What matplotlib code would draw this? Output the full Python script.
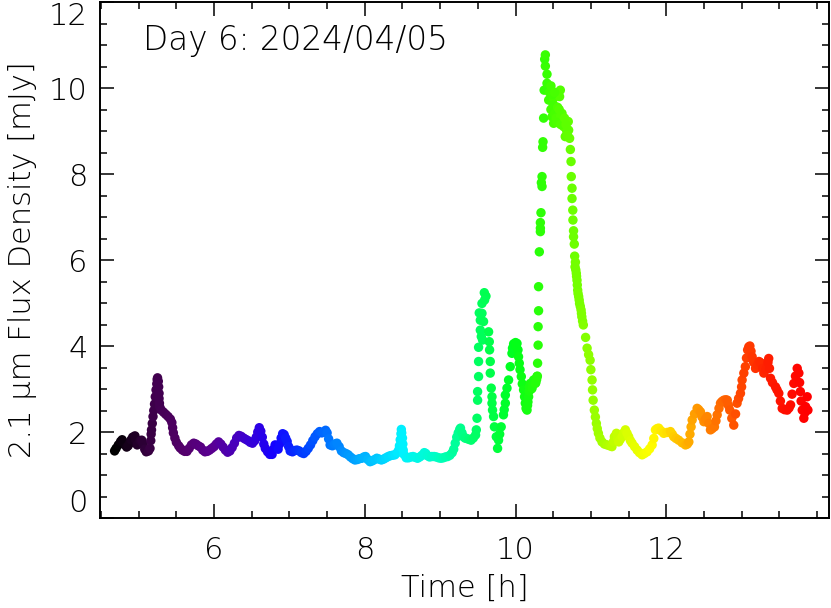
import numpy as np
from matplotlib import pyplot as plt
from matplotlib.colors import LinearSegmentedColormap

# light curve: time [h], flux density [mJy]
time_h = [
    4.68, 4.70, 4.73, 4.76, 4.78, 4.80, 4.82, 4.84, 4.86, 4.88, 4.90, 4.92, 4.95, 4.96, 4.98,
    5.00, 5.02, 5.04, 5.06, 5.08, 5.10, 5.13, 5.15,
    5.16, 5.165, 5.17, 5.18, 5.19, 5.20, 5.21, 5.22, 5.23, 5.24, 5.245, 5.25, 5.26, 5.265,
    5.27, 5.27, 5.275, 5.28, 5.30, 5.33, 5.36, 5.39, 5.42, 5.44, 5.45, 5.46, 5.48, 5.50,
    5.53, 5.55, 5.58, 5.61, 5.64, 5.67, 5.70, 5.73, 5.76, 5.79, 5.82, 5.85, 5.88, 5.91,
    5.94, 5.97, 6.00, 6.03, 6.06, 6.09, 6.12, 6.15, 6.18, 6.21, 6.24, 6.27, 6.30, 6.33,
    6.36, 6.39, 6.42, 6.45, 6.48, 6.51, 6.54, 6.56, 6.58, 6.60, 6.62, 6.64, 6.66, 6.68,
    6.71, 6.74, 6.77, 6.79, 6.81, 6.83, 6.85, 6.87, 6.89, 6.91, 6.93, 6.95, 6.97, 6.99,
    7.01, 7.04, 7.07, 7.10, 7.13, 7.16, 7.19, 7.22, 7.25, 7.28, 7.31, 7.34, 7.37, 7.40,
    7.43, 7.46, 7.48, 7.50, 7.52, 7.54, 7.57, 7.60, 7.63, 7.66, 7.69, 7.72, 7.75, 7.78,
    7.81, 7.84, 7.87, 7.90, 7.93, 7.96, 7.99, 8.01, 8.04, 8.07, 8.10, 8.13, 8.16, 8.19,
    8.22, 8.25, 8.28, 8.31, 8.34, 8.37, 8.40, 8.43, 8.45, 8.46, 8.47, 8.48, 8.485, 8.49,
    8.50, 8.505, 8.51, 8.52, 8.55, 8.58, 8.61, 8.64, 8.67, 8.70, 8.73, 8.76, 8.79, 8.81,
    8.83, 8.86, 8.89, 8.92, 8.95, 8.98, 9.01, 9.04, 9.07, 9.10, 9.13, 9.16, 9.18, 9.20,
    9.22, 9.24, 9.26, 9.27, 9.29, 9.31, 9.33, 9.35, 9.38, 9.41, 9.44, 9.47, 9.48,
    # first flare
    9.489, 9.497, 9.497, 9.51, 9.51, 9.51, 9.533, 9.533, 9.519, 9.555, 9.586, 9.608, 9.59,
    9.555, 9.576, 9.546, 9.563,
    9.643, 9.652, 9.656, 9.665, 9.665, 9.678, 9.688, 9.688, 9.695, 9.709, 9.72, 9.745, 9.762,
    9.775, 9.79, 9.81, 9.84, 9.85, 9.865, 9.865, 9.887, 9.908, 9.93, 9.953, 9.96, 9.975,
    9.988, 10.0, 10.01, 10.02, 10.033, 10.04, 10.05, 10.06, 10.077, 10.09, 10.107, 10.12,
    10.13, 10.14, 10.153, 10.16, 10.165, 10.174, 10.18, 10.185, 10.196, 10.20, 10.21, 10.22,
    10.23, 10.24, 10.25, 10.263, 10.27, 10.28, 10.285, 10.29,
    # main flare
    10.293, 10.30, 10.30, 10.306, 10.306, 10.316, 10.33, 10.33, 10.33, 10.338, 10.352, 10.343,
    10.352, 10.36, 10.365, 10.373, 10.38, 10.418, 10.418, 10.396, 10.387, 10.396,
    10.44, 10.506, 10.595, 10.585, 10.53, 10.485, 10.55, 10.617, 10.506, 10.572, 10.64, 10.70,
    10.705, 10.66, 10.718, 10.47, 10.50, 10.52, 10.54, 10.56, 10.58, 10.60, 10.62, 10.45,
    10.47, 10.49, 10.52, 10.55, 10.60, 10.65, 10.67, 10.68, 10.69,
    10.728, 10.737, 10.74, 10.75, 10.75, 10.76, 10.762, 10.77, 10.77, 10.78, 10.785, 10.79,
    10.795, 10.80, 10.807, 10.81, 10.816, 10.82, 10.825, 10.83, 10.838, 10.845, 10.85, 10.86,
    10.87, 10.875, 10.88, 10.89, 10.90, 10.93, 10.95, 10.97,
    # decay and late activity
    10.99, 11.0, 11.016, 11.022, 11.03, 11.046, 11.06, 11.073, 11.085, 11.10, 11.12, 11.148,
    11.18, 11.215, 11.25, 11.28, 11.30, 11.312, 11.339, 11.355, 11.37, 11.39, 11.414, 11.435,
    11.458, 11.48, 11.502, 11.525, 11.547, 11.58, 11.614, 11.645, 11.68, 11.71, 11.746, 11.78,
    11.813, 11.835, 11.857, 11.88, 11.90, 11.93, 11.967, 12.01, 12.056, 12.08, 12.10, 12.13,
    12.166, 12.21, 12.255, 12.28, 12.30, 12.315, 12.33, 12.344, 12.375, 12.41, 12.43, 12.454,
    12.475, 12.50, 12.52, 12.543, 12.565, 12.587, 12.61, 12.64, 12.66, 12.676, 12.70, 12.72,
    12.74, 12.764, 12.79, 12.81, 12.825, 12.843, 12.87, 12.896, 12.92, 12.94, 12.96, 12.985,
    13.0, 13.007, 13.03, 13.05, 13.065, 13.08, 13.095, 13.11, 13.125, 13.14, 13.16, 13.185,
    13.21, 13.23, 13.245, 13.26, 13.28, 13.295, 13.32, 13.34, 13.35, 13.36, 13.37, 13.384,
    13.41, 13.45, 13.47, 13.494, 13.515, 13.539, 13.57, 13.605, 13.63, 13.65, 13.67, 13.693,
    13.715, 13.738, 13.76, 13.77, 13.78, 13.79, 13.805, 13.826, 13.84, 13.85, 13.87, 13.88,
]

flux_mjy = [
    1.56, 1.62, 1.70, 1.78, 1.82, 1.76, 1.70, 1.65, 1.68, 1.74, 1.82, 1.88, 1.91, 1.82, 1.70,
    1.74, 1.80, 1.81, 1.72, 1.60, 1.54, 1.56, 1.62,
    1.80, 1.95, 2.05, 2.20, 2.36, 2.50, 2.65, 2.82, 2.98, 3.12, 3.22, 3.26, 3.18, 3.05,
    2.90, 2.78, 2.67, 2.58, 2.51, 2.46, 2.41, 2.36, 2.30, 2.22, 2.10, 1.98, 1.86, 1.76,
    1.68, 1.63, 1.58, 1.55, 1.55, 1.62, 1.70, 1.74, 1.72, 1.68, 1.65, 1.58, 1.54, 1.55,
    1.58, 1.62, 1.66, 1.72, 1.77, 1.72, 1.65, 1.58, 1.53, 1.56, 1.64, 1.74, 1.86, 1.92,
    1.90, 1.86, 1.83, 1.80, 1.76, 1.74, 1.80, 1.88, 2.00, 2.10, 2.02, 1.88, 1.72, 1.62,
    1.54, 1.48, 1.48, 1.60, 1.70, 1.64, 1.60, 1.72, 1.86, 1.96, 1.94, 1.86, 1.78, 1.66,
    1.56, 1.54, 1.57, 1.58, 1.56, 1.52, 1.50, 1.55, 1.62, 1.70, 1.80, 1.89, 1.96, 2.01,
    1.98, 2.00, 2.04, 1.98, 1.84, 1.70, 1.68, 1.72, 1.74, 1.66, 1.56, 1.52, 1.50, 1.47,
    1.42, 1.38, 1.35, 1.36, 1.38, 1.39, 1.42, 1.43, 1.36, 1.31, 1.33, 1.36, 1.39, 1.37,
    1.35, 1.37, 1.40, 1.43, 1.45, 1.46, 1.47, 1.52, 1.58, 1.68, 1.82, 1.96, 2.06, 1.98,
    1.86, 1.72, 1.58, 1.48, 1.40, 1.40, 1.42, 1.43, 1.41, 1.39, 1.42, 1.46, 1.52, 1.50,
    1.45, 1.42, 1.43, 1.43, 1.42, 1.40, 1.39, 1.40, 1.42, 1.43, 1.46, 1.52, 1.60, 1.74,
    1.88, 1.98, 2.06, 2.09, 1.98, 1.89, 1.86, 1.85, 1.83, 1.81, 1.86, 1.93, 2.05,
    # first flare
    2.32, 2.74, 2.94, 3.29, 3.64, 3.97, 4.37, 4.60, 4.77, 4.99, 5.24, 5.16, 5.07,
    4.76, 4.57, 4.22, 4.14,
    4.33, 4.10, 3.91, 3.64, 3.37, 3.02, 2.82, 2.67, 2.51, 2.36, 2.12, 1.89, 1.62,
    1.81, 1.95, 2.12, 2.40, 2.52, 2.67, 2.86, 3.02, 3.21, 3.52, 3.83, 3.95, 4.05,
    4.02, 4.08, 4.00, 4.06, 3.91, 3.75, 3.60, 3.45, 3.29, 3.12, 2.98, 2.82,
    2.67, 2.55, 2.51, 2.62, 2.70, 2.82, 2.95, 3.05, 3.13, 3.08, 3.00, 3.02,
    3.12, 3.21, 3.18, 3.13, 3.15, 3.22, 3.29, 3.30,
    # main flare
    3.60, 4.02, 4.45, 4.82, 5.38, 6.19, 6.66, 6.74, 6.87, 7.10, 7.71, 7.80,
    7.94, 8.62, 8.75, 9.30, 9.95, 10.11, 10.32, 10.51, 10.67, 10.77,
    9.72, 9.76, 9.95, 9.80, 9.57, 9.33, 9.45, 9.41, 9.18, 9.26, 9.10, 9.22,
    9.02, 8.87, 8.83, 9.50, 9.60, 9.40, 9.30, 9.55, 9.50, 9.35, 9.20, 9.90,
    10.05, 9.85, 9.90, 9.20, 9.15, 9.30, 9.15, 9.00, 8.90,
    8.57, 8.29, 7.94, 7.67, 7.43, 7.16, 6.93, 6.68, 6.54, 6.37, 6.09, 5.84,
    5.95, 5.77, 5.69, 5.62, 5.53, 5.42, 5.30, 5.22, 5.15, 5.07, 4.99, 4.92,
    4.84, 4.76, 4.68, 4.58, 4.49, 4.20, 3.95, 3.80,
    # decay and late activity
    3.67, 3.45, 3.21, 2.98, 2.74, 2.51, 2.35, 2.20, 2.08, 1.97, 1.86, 1.77,
    1.72, 1.70, 1.68, 1.66, 1.78, 1.89, 1.97, 1.85, 1.77, 1.83, 1.89, 1.98,
    2.05, 1.97, 1.89, 1.80, 1.74, 1.66, 1.58, 1.52, 1.47, 1.50, 1.54, 1.61,
    1.70, 1.85, 2.05, 2.08, 2.09, 2.03, 1.97, 1.99, 2.01, 1.95, 1.89, 1.85,
    1.81, 1.75, 1.70, 1.72, 1.77, 1.95, 2.12, 2.28, 2.42, 2.55, 2.52, 2.47,
    2.35, 2.24, 2.30, 2.36, 2.20, 2.05, 2.08, 2.12, 2.26, 2.40, 2.55, 2.67,
    2.71, 2.74, 2.75, 2.74, 2.62, 2.51, 2.32, 2.16, 2.42, 2.67, 2.78, 2.90,
    3.05, 3.21, 3.37, 3.52, 3.72, 3.91, 3.98, 4.00, 3.88, 3.75, 3.62, 3.48,
    3.56, 3.64, 3.62, 3.60, 3.48, 3.37, 3.45, 3.52, 3.62, 3.71, 3.48, 3.25,
    3.15, 3.05, 2.98, 2.90, 2.72, 2.55, 2.52, 2.51, 2.56, 2.63, 2.88, 3.13,
    3.30, 3.48, 3.37, 3.15, 2.94, 2.72, 2.51, 2.32, 2.45, 2.59, 2.82, 2.51,
]

title_text = "Day 6: 2024/04/05"
x_label = "Time [h]"
y_label = "2.1 μm Flux Density [mJy]"
x_ticks = [6, 8, 10, 12]
y_ticks = [0, 2, 4, 6, 8, 10, 12]

# rainbow colour table, black -> purple -> blue -> cyan -> green -> yellow -> red
rainbow = LinearSegmentedColormap.from_list("idl_rainbow", [
    (0.0, (0, 0, 0)),
    (0.057, (0.25, 0, 0.30)),
    (0.10, (0.33, 0, 0.42)),
    (0.143, (0.35, 0, 0.58)),
    (0.187, (0.25, 0, 0.80)),
    (0.23, (0.08, 0, 1)),
    (0.274, (0, 0.25, 1)),
    (0.317, (0, 0.5, 1)),
    (0.36, (0, 0.7, 1)),
    (0.415, (0, 0.95, 1)),
    (0.47, (0, 1, 0.75)),
    (0.52, (0, 1, 0.4)),
    (0.578, (0, 1, 0.1)),
    (0.63, (0.25, 1, 0)),
    (0.685, (0.55, 1, 0)),
    (0.74, (0.85, 1, 0)),
    (0.774, (1, 1, 0)),
    (0.817, (1, 0.75, 0)),
    (0.86, (1, 0.5, 0)),
    (0.904, (1, 0.28, 0)),
    (0.948, (1, 0.1, 0)),
    (1.0, (1, 0, 0)),
])

plt.rcParams['font.family'] = ['DejaVu Sans']
plt.rcParams['font.weight'] = 'light'
plt.rcParams['axes.labelweight'] = 'light'

fig = plt.figure(figsize=(8.31, 6.08), dpi=100)
ax = fig.add_axes([0.1203, 0.148, 0.8773, 0.8487])

t = np.array(time_h)
f = np.array(flux_mjy)
ax.scatter(t, f, c=t, cmap=rainbow, vmin=t.min(), vmax=t.max(), s=46, linewidths=0)

ax.set_xlim(4.486, 14.16)
ax.set_ylim(0, 12)
ax.set_xticks(x_ticks)
ax.set_yticks(y_ticks)
ax.set_xticks(np.arange(4.5, 14.2, 0.5), minor=True)
ax.set_yticks(np.arange(0, 12.01, 0.5), minor=True)
ax.tick_params(which='both', direction='in', top=True, right=True, width=1.1, labelsize=22)
ax.tick_params(which='major', length=10)
ax.tick_params(which='minor', length=5)
ax.tick_params(axis='x', pad=13)
ax.tick_params(axis='y', pad=9)
for s in ax.spines.values():
    s.set_linewidth(1.4)

ylabels = ax.get_yticklabels()
ylabels[0].set_va('bottom')
ylabels[-1].set_va('top')

ax.set_xlabel(x_label, fontsize=22, fontweight='light', labelpad=6)
ax.set_ylabel(y_label, fontsize=22, fontweight='light', labelpad=8)
ax.text(0.059, 0.926, title_text, transform=ax.transAxes, fontsize=23.5,
        fontweight='light', va='center', ha='left')

fig.savefig("out.png", dpi=100)
